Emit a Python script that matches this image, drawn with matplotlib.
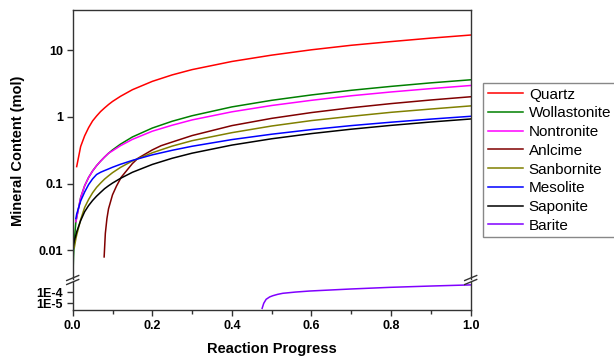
import numpy as np
import matplotlib
matplotlib.use("Agg")
import matplotlib.pyplot as plt
from matplotlib.lines import Line2D
from matplotlib.ticker import FixedLocator, MultipleLocator, NullLocator

plt.rcParams['font.family'] = ['Liberation Sans', 'DejaVu Sans']

# reaction progress grid shared by most minerals
progress = [0.0, 0.002, 0.004, 0.008, 0.01, 0.02, 0.03, 0.04, 0.05, 0.06, 0.07,
            0.08, 0.09, 0.1, 0.12, 0.15, 0.2, 0.25, 0.3, 0.4, 0.5, 0.6, 0.7,
            0.8, 0.9, 1.0]
nan = np.nan
quartz = [nan, nan, nan, nan, 0.18, 0.36, 0.52, 0.69, 0.87, 1.03, 1.2,
          1.36, 1.53, 1.7, 2.03, 2.55, 3.4, 4.25, 5.1, 6.75, 8.4, 10.1, 11.8,
          13.4, 15.1, 16.8]
wollastonite = [0.003, 0.008, 0.014, 0.027, 0.031, 0.062, 0.093, 0.124, 0.155, 0.186, 0.217,
                0.25, 0.285, 0.32, 0.39, 0.5, 0.68, 0.86, 1.04, 1.41, 1.77, 2.13, 2.5,
                2.86, 3.23, 3.59]
nontronite = [nan, nan, nan, 0.027, 0.031, 0.062, 0.093, 0.124, 0.155, 0.186, 0.217,
              0.25, 0.285, 0.31, 0.37, 0.46, 0.61, 0.75, 0.9, 1.19, 1.48, 1.77, 2.07,
              2.36, 2.65, 2.95]
sanbornite = [nan, nan, 0.011, 0.015, 0.017, 0.029, 0.044, 0.058, 0.073, 0.088, 0.102,
              0.117, 0.131, 0.146, 0.175, 0.219, 0.29, 0.365, 0.44, 0.58, 0.73, 0.88, 1.02,
              1.17, 1.31, 1.46]
mesolite = [nan, nan, nan, 0.03, 0.035, 0.055, 0.075, 0.097, 0.118, 0.137, 0.148,
            0.157, 0.166, 0.176, 0.195, 0.223, 0.27, 0.316, 0.363, 0.457, 0.55, 0.645, 0.74,
            0.832, 0.926, 1.02]
saponite = [0.01, 0.012, 0.014, 0.017, 0.019, 0.028, 0.038, 0.047, 0.056, 0.065, 0.074,
            0.084, 0.093, 0.102, 0.12, 0.148, 0.194, 0.24, 0.286, 0.378, 0.47, 0.562, 0.654,
            0.746, 0.838, 0.93]

# Anlcime only forms after ~0.08
anlcime_x = [0.079, 0.082, 0.086, 0.09, 0.1, 0.11, 0.122, 0.15, 0.164, 0.2, 0.222,
             0.25, 0.3, 0.4, 0.5, 0.6, 0.7, 0.8, 0.9, 1.0]
anlcime = [0.008, 0.018, 0.03, 0.042, 0.068, 0.092, 0.125, 0.2, 0.24, 0.32, 0.37,
           0.42, 0.525, 0.74, 0.95, 1.16, 1.37, 1.58, 1.79, 2.0]

# Barite only forms after ~0.48 (lower broken segment)
barite_x = [0.476, 0.48, 0.486, 0.495, 0.503, 0.515, 0.528, 0.56, 0.595, 0.7,
            0.796, 0.9, 1.0]
barite = [3.5e-6, 1.0e-5, 2.3e-5, 3.8e-5, 4.9e-5, 6.5e-5, 8.1e-5, 1.05e-4, 1.3e-4, 2.0e-4,
          2.8e-4, 3.7e-4, 4.7e-4]

upper_ticks = [0.01, 0.1, 1, 10]
upper_labels = ['0.01', '0.1', '1', '10']
lower_ticks = [1e-5, 1e-4]
lower_labels = ['1E-5', '1E-4']

W, H = 614, 356


def box(x0, y0, x1, y1):
    # pixel box (top-left origin) -> figure fraction rect
    return [x0 / W, 1 - y1 / H, (x1 - x0) / W, (y1 - y0) / H]


fig = plt.figure(figsize=(W / 100, H / 100), dpi=100)
ax_top = fig.add_axes(box(72.7, 10, 470.7, 278.5))
ax_bot = fig.add_axes(box(72.7, 281.5, 470.7, 310))

lw = 1.1
ax_top.plot(progress, quartz, color='#FF0000', lw=lw, label='Quartz')
ax_top.plot(progress, wollastonite, color='#008000', lw=lw, label='Wollastonite')
ax_top.plot(progress, nontronite, color='#FF00FF', lw=lw, label='Nontronite')
ax_top.plot(anlcime_x, anlcime, color='#800000', lw=lw, label='Anlcime')
ax_top.plot(progress, sanbornite, color='#808000', lw=lw, label='Sanbornite')
ax_top.plot(progress, mesolite, color='#0000FF', lw=lw, label='Mesolite')
ax_top.plot(progress, saponite, color='#000000', lw=lw, label='Saponite')
ax_bot.plot(barite_x, barite, color='#8000FF', lw=lw, label='Barite')

spine_c = '#333333'
for ax in (ax_top, ax_bot):
    ax.set_yscale('log')
    ax.set_xlim(0, 1)
    for s in ax.spines.values():
        s.set_color(spine_c)
        s.set_linewidth(1.0)
    ax.tick_params(axis='both', which='both', direction='out', color=spine_c,
                   labelsize=9, width=1.0)
    ax.tick_params(axis='y', length=4, pad=3)
    ax.yaxis.set_minor_locator(NullLocator())

ax_top.set_ylim(10 ** -2.42, 10 ** 1.6)
ax_top.yaxis.set_major_locator(FixedLocator(upper_ticks))
ax_top.set_yticklabels(upper_labels, fontweight='bold')
ax_top.spines['bottom'].set_visible(False)
ax_top.tick_params(axis='x', which='both', bottom=False, labelbottom=False)

ax_bot.set_ylim(10 ** -5.61, 10 ** -3.02)
ax_bot.yaxis.set_major_locator(FixedLocator(lower_ticks))
ax_bot.set_yticklabels(lower_labels, fontweight='bold')
ax_bot.spines['top'].set_visible(False)
ax_bot.xaxis.set_major_locator(MultipleLocator(0.2))
ax_bot.xaxis.set_minor_locator(MultipleLocator(0.1))
ax_bot.tick_params(axis='x', which='major', length=4.5, pad=2.5)
ax_bot.tick_params(axis='x', which='minor', length=3)
ax_bot.set_xticks([0, 0.2, 0.4, 0.6, 0.8, 1.0])
ax_bot.set_xticklabels(['0.0', '0.2', '0.4', '0.6', '0.8', '1.0'], fontweight='bold')

# break marks on both spines
for xs in (72.7, 470.7):
    for yc in (278.0, 282.0):
        fig.add_artist(Line2D([(xs - 6) / W, (xs + 6) / W],
                              [1 - (yc + 2.5) / H, 1 - (yc - 2.5) / H],
                              color=spine_c, lw=1.0, transform=fig.transFigure))

fig.text(18 / W, 1 - 151 / H, 'Mineral Content (mol)', rotation=90,
         ha='center', va='center', fontsize=10.5, fontweight='bold')
fig.text(271.7 / W, 1 - 352.5 / H, 'Reaction Progress', ha='center',
         va='baseline', fontsize=10.5, fontweight='bold')

handles, labels = ax_top.get_legend_handles_labels()
h2, l2 = ax_bot.get_legend_handles_labels()
leg = fig.legend(handles + h2, labels + l2, loc='upper left',
                 bbox_to_anchor=(483 / W, 1 - 83 / H), borderaxespad=0,
                 fontsize=11, fancybox=False, framealpha=1, edgecolor='#888888',
                 handlelength=2.3, handletextpad=0.4, labelspacing=0.31,
                 borderpad=0.3)
leg.get_frame().set_linewidth(1.0)

fig.savefig('out.png', dpi=100)
